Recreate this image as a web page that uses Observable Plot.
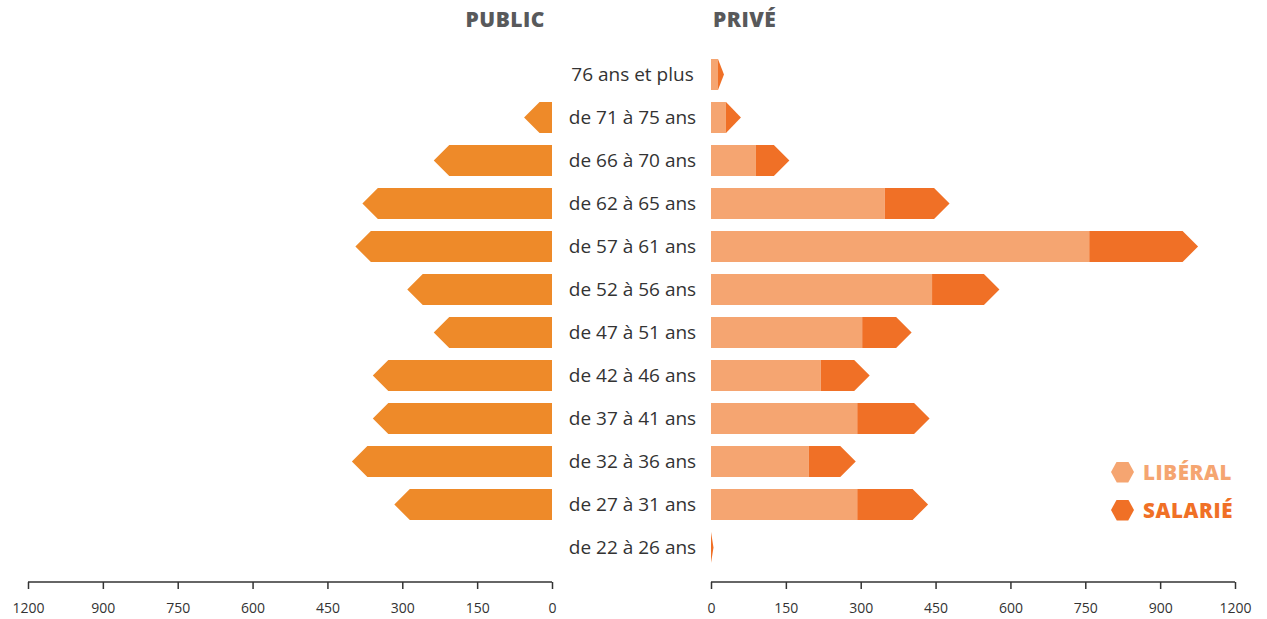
<!DOCTYPE html>
<html>
<head>
<meta charset="utf-8">
<script src="https://cdn.jsdelivr.net/npm/d3@7"></script>
<script src="https://cdn.jsdelivr.net/npm/@observablehq/plot@0.6"></script>
<style>
  html, body { margin: 0; padding: 0; background: #fff; }
  #chart { position: relative; width: 1267px; height: 619px; overflow: hidden; font-family: "Open Sans", sans-serif; }
  #left, #right { position: absolute; top: 0; }
  #left { left: 0; }
  #right { left: 560px; }
  .title { position: absolute; top: 5px; font-family: "Open Sans", sans-serif; font-weight: 800; font-size: 21px; color: #58595b; letter-spacing: 0.5px; }
  .legend { position: absolute; left: 1111px; font-weight: 800; font-size: 20.5px; letter-spacing: 0.6px; display: flex; align-items: center; gap: 9px; }
  .hex { width: 23px; height: 21px; clip-path: polygon(25% 0, 75% 0, 100% 50%, 75% 100%, 25% 100%, 0 50%); }
</style>
</head>
<body>
<div id="chart">
  <div id="left"></div>
  <div id="right"></div>
  <div class="title" style="right: 722px;">PUBLIC</div>
  <div class="title" style="left: 713px;">PRIVÉ</div>
  <div class="legend" style="top: 458px; color: #F5A571;"><div class="hex" style="background:#F5A571"></div>LIBÉRAL</div>
  <div class="legend" style="top: 496px; color: #F07026;"><div class="hex" style="background:#F07026"></div>SALARIÉ</div>
</div>
<script>
// ---- data ----
const categories = ["76 ans et plus","de 71 à 75 ans","de 66 à 70 ans","de 62 à 65 ans","de 57 à 61 ans","de 52 à 56 ans","de 47 à 51 ans","de 42 à 46 ans","de 37 à 41 ans","de 32 à 36 ans","de 27 à 31 ans","de 22 à 26 ans"];
const publicValues  = [0, 56, 237, 380, 394, 290, 237, 359, 359, 401, 316, 0];
const liberalValues = [14, 30, 90, 348, 758, 443, 303, 220, 293, 196, 293, 0];
const salarieValues = [12, 30, 67, 130, 218, 135, 99, 98, 145, 94, 142, 5];
const tickValues = [0, 150, 300, 450, 600, 750, 900, 1050];
const tickLabels = ["0", "150", "300", "450", "600", "750", "900", "1200"];

const colPublic = "#EE8A29", colLiberal = "#F5A571", colSalarie = "#F07026";

const publicData = categories.map((c, i) => ({cat: c, start: 0, end: publicValues[i]}));
const liberalData = categories.map((c, i) => ({cat: c, start: 0, end: liberalValues[i]}));
const salarieData = categories.map((c, i) => ({cat: c, start: liberalValues[i], end: liberalValues[i] + salarieValues[i]}));

// arrow-shaped bar mark drawn through Plot's scales
function arrowBars(data, fill) {
  return (index, scales) => {
    const g = d3.create("svg:g");
    const bw = scales.y.bandwidth ? scales.y.bandwidth() : 31;
    for (const d of data) {
      if (d.end - d.start <= 0) continue;
      const xs = scales.x(d.start), xe = scales.x(d.end);
      const y0 = scales.y(d.cat), y1 = y0 + bw, ym = y0 + bw / 2;
      const dir = Math.sign(xe - xs);
      const t = Math.min(bw / 2, Math.abs(xe - xs));
      const pts = [[xs, y0], [xe - dir * t, y0], [xe, ym], [xe - dir * t, y1], [xs, y1]];
      g.append("path").attr("d", "M" + pts.map(p => p.join(",")).join("L") + "Z").attr("fill", fill);
    }
    return g.node();
  };
}
function baseline(index, scales, values, dims) {
  const y = dims.height - dims.marginBottom;
  return d3.create("svg:line")
    .attr("x1", dims.marginLeft).attr("x2", dims.width - dims.marginRight)
    .attr("y1", y).attr("y2", y).attr("stroke", "#333").attr("stroke-width", 1.5).node();
}

const common = {
  height: 619,
  marginTop: 0,
  marginBottom: 37,
  style: {fontFamily: "Open Sans, sans-serif", fontSize: "14px", color: "#333", background: "transparent"},
};
const yScale = {domain: categories, range: [45.3, 576.7], padding: 0.28, axis: null};
const axis = Plot.axisX({ticks: tickValues, tickFormat: (d) => tickLabels[tickValues.indexOf(d)], tickSize: 7, tickPadding: 14, fontSize: 14, stroke: "#333", strokeWidth: 1.5, fill: "#333"});

const left = Plot.plot({
  ...common,
  width: 560,
  marginLeft: 28,
  marginRight: 8,
  x: {domain: [0, 1050], reverse: true, axis: null},
  y: yScale,
  marks: [
    Plot.barX(publicData, {x1: "start", x2: "end", y: "cat", fill: "none"}),
    arrowBars(publicData, colPublic),
    baseline,
    axis
  ]
});
document.getElementById("left").append(left);

const right = Plot.plot({
  ...common,
  width: 707,
  marginLeft: 151,
  marginRight: 32,
  x: {domain: [0, 1050], axis: null},
  y: yScale,
  marks: [
    Plot.barX(liberalData, {x1: "start", x2: "end", y: "cat", fill: colLiberal}),
    arrowBars(salarieData, colSalarie),
    Plot.text(categories, {y: d => d, text: d => d, frameAnchor: "left", dx: -79, textAnchor: "middle", fontSize: 19, fill: "#333"}),
    baseline,
    axis
  ]
});
document.getElementById("right").append(right);
</script>
</body>
</html>
